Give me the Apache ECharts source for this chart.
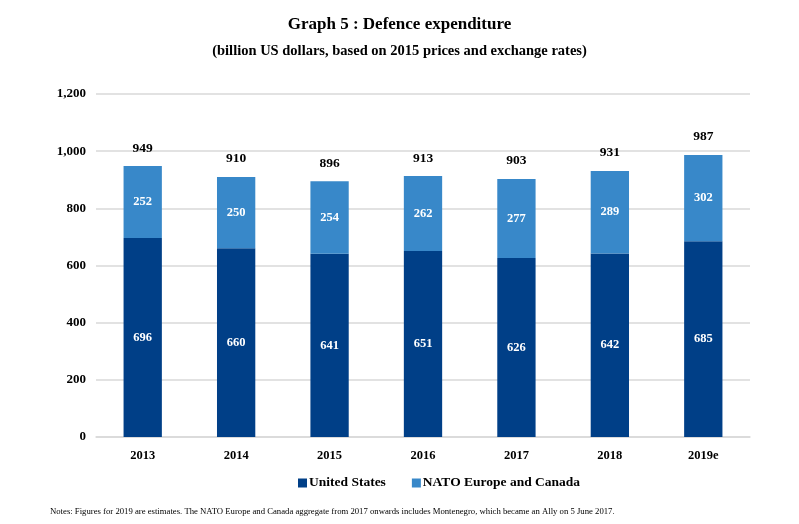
<!DOCTYPE html>
<html>
<head>
<meta charset="utf-8">
<script src="https://cdn.jsdelivr.net/npm/echarts@6/dist/echarts.min.js"></script>
<style>html,body{margin:0;padding:0;background:#fff}#c{width:799px;height:524px}</style>
</head>
<body>
<div id="c"></div>
<script>
const categories = ['2013','2014','2015','2016','2017','2018','2019e'];
const unitedStates = [696, 660, 641, 651, 626, 642, 685];
const natoEuropeCanada = [252, 250, 254, 262, 277, 289, 302];
const totals = [949, 910, 896, 913, 903, 931, 987];
const yTicks = [0, 200, 400, 600, 800, 1000, 1200];

const serif = '"Liberation Serif", "DejaVu Serif", serif';
const chart = echarts.init(document.getElementById('c'), null, {renderer: 'canvas'});
chart.setOption({
  animation: false,
  backgroundColor: '#fff',
  title: [
    {text: 'Graph 5 : Defence expenditure', left: 'center', top: 11,
     textStyle: {fontFamily: serif, fontSize: 17, fontWeight: 'bold', color: '#000'}},
    {text: '(billion US dollars, based on 2015 prices and exchange rates)', left: 'center', top: 39,
     textStyle: {fontFamily: serif, fontSize: 14.5, fontWeight: 'bold', color: '#000'}},
    {text: 'Notes: Figures for 2019 are estimates. The NATO Europe and Canada aggregate from 2017 onwards includes Montenegro, which became an Ally on 5 June 2017.',
     left: 45, top: 502, textStyle: {fontFamily: serif, fontSize: 8.7, fontWeight: 'normal', color: '#000'}}
  ],
  legend: {
    top: 471, left: 293, itemWidth: 9, itemHeight: 9, itemGap: 26,
    icon: 'rect',
    textStyle: {fontFamily: serif, fontSize: 13.5, fontWeight: 'bold', color: '#000', padding: [0, 0, 0, -3]},
    data: ['United States', 'NATO Europe and Canada']
  },
  grid: {left: 96, right: 49, top: 94, bottom: 87},
  xAxis: {
    type: 'category', data: categories,
    axisLine: {lineStyle: {color: '#d9d9d9', width: 1.5}},
    axisTick: {show: false},
    axisLabel: {fontFamily: serif, fontSize: 12.5, fontWeight: 'bold', color: '#000', margin: 12}
  },
  yAxis: {
    type: 'value', min: yTicks[0], max: yTicks[yTicks.length - 1], interval: 200,
    axisLine: {show: false}, axisTick: {show: false},
    splitLine: {lineStyle: {color: '#d9d9d9', width: 1.5}},
    axisLabel: {fontFamily: serif, fontSize: 13, fontWeight: 'bold', color: '#000', margin: 10,
      formatter: v => v.toLocaleString('en-US')}
  },
  series: [
    {name: 'United States', type: 'bar', stack: 't', data: unitedStates, barWidth: '41%',
     itemStyle: {color: '#003f87'},
     label: {show: true, position: 'inside', color: '#fff', fontFamily: serif, fontSize: 12.5, fontWeight: 'bold'}},
    {name: 'NATO Europe and Canada', type: 'bar', stack: 't', data: natoEuropeCanada, barWidth: '41%',
     itemStyle: {color: '#3888c9'},
     label: {show: true, position: 'inside', color: '#fff', fontFamily: serif, fontSize: 12.5, fontWeight: 'bold'}},
    {name: 'total', type: 'bar', stack: 't', data: totals.map(() => 0), barWidth: '41%',
     itemStyle: {color: 'transparent'},
     label: {show: true, position: 'top', distance: 11, color: '#000', fontFamily: serif, fontSize: 13.5, fontWeight: 'bold',
       formatter: p => String(totals[p.dataIndex])}}
  ]
});
</script>
</body>
</html>
